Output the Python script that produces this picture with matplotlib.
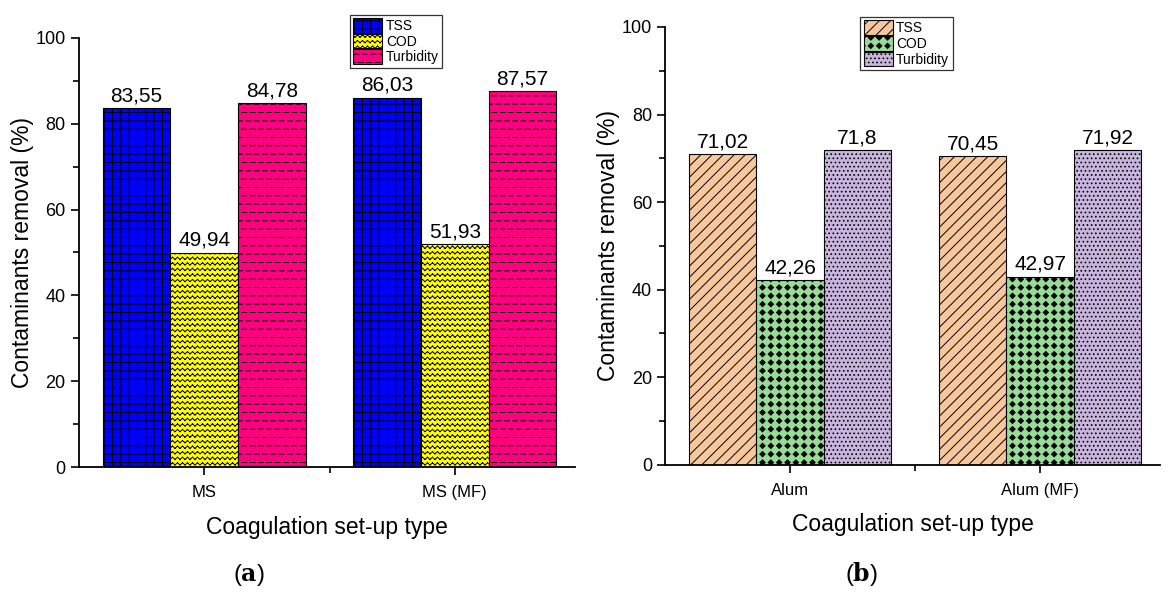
import warnings
import matplotlib
matplotlib.use("Agg")
import matplotlib.pyplot as plt
import matplotlib.hatch as mhatch
from matplotlib.path import Path
import numpy as np

warnings.filterwarnings("ignore")

plt.rcParams['font.family'] = ['Liberation Sans', 'DejaVu Sans']
plt.rcParams['hatch.linewidth'] = 0.7
plt.rcParams['mathtext.fontset'] = 'dejavuserif'

# data
series = ["TSS", "COD", "Turbidity"]
cats_a = ["MS", "MS (MF)"]
vals_a = {"TSS": [83.55, 86.03], "COD": [49.94, 51.93], "Turbidity": [84.78, 87.57]}
cats_b = ["Alum", "Alum (MF)"]
vals_b = {"TSS": [71.02, 70.45], "COD": [42.26, 42.97], "Turbidity": [71.8, 71.92]}

colors_a = ["#0000FF", "#FFFF00", "#FF0080"]
hatch_a = ["++", "~~~", "__"]
colors_b = ["#F8C89C", "#96DC96", "#C8B4DC"]
hatch_b = ["///", "##", "...."]


# extra hatch patterns: '~' zigzag rows, '_' dashed rows, '#' diamond grid
class ZigzagHatch(mhatch.HatchPatternBase):
    def __init__(self, hatch, density):
        self.num_lines = int(hatch.count('~') * density)
        self.seg = 40
        self.num_vertices = self.num_lines * self.seg * 2

    def set_vertices_and_codes(self, vertices, codes):
        xs = np.linspace(0, 1, self.seg + 1)
        amp = 0.2 / max(self.num_lines, 1)
        k = 0
        for i in range(self.num_lines):
            y = (i + 0.5) / self.num_lines
            ys = y + amp * (np.arange(self.seg + 1) % 2 * 2 - 1)
            for j in range(self.seg):
                vertices[k] = xs[j], ys[j]
                vertices[k + 1] = xs[j + 1], ys[j + 1]
                codes[k] = Path.MOVETO
                codes[k + 1] = Path.LINETO
                k += 2


class DashHatch(mhatch.HatchPatternBase):
    def __init__(self, hatch, density):
        self.num_lines = int(hatch.count('_') * density)
        self.ndash = 12
        self.num_vertices = self.num_lines * (self.ndash + 1) * 2

    def set_vertices_and_codes(self, vertices, codes):
        step = 1.0 / self.ndash
        k = 0
        for i in range(self.num_lines):
            y = (i + 0.5) / self.num_lines
            off = step / 2 if i % 2 else 0.0
            for j in range(self.ndash + 1):
                x0 = j * step + off - step
                vertices[k] = x0, y
                vertices[k + 1] = x0 + step * 0.6, y
                codes[k] = Path.MOVETO
                codes[k + 1] = Path.LINETO
                k += 2


class DiamondHatch(mhatch.HatchPatternBase):
    def __init__(self, hatch, density):
        self.n = int(hatch.count('#') * density)
        self.num_vertices = self.n * self.n * 5

    def set_vertices_and_codes(self, vertices, codes):
        r = 0.32 / max(self.n, 1)
        shape = np.array([[0, -r], [r, 0], [0, r], [-r, 0], [0, -r]])
        k = 0
        for i in range(self.n):
            for j in range(self.n):
                c = np.array([(j + 0.5) / self.n, (i + 0.5) / self.n])
                vertices[k:k + 5] = shape + c
                codes[k:k + 5] = [Path.MOVETO, Path.LINETO, Path.LINETO,
                                  Path.LINETO, Path.CLOSEPOLY]
                k += 5


mhatch._hatch_types.extend([ZigzagHatch, DashHatch, DiamondHatch])


def fmt(v):
    return ("%g" % v).replace(".", ",")


def panel(ax, cats, vals, colors, hatches, leg_anchor):
    x = np.arange(1, len(cats) + 1)
    w = 0.27
    for i, s in enumerate(series):
        bars = ax.bar(x + (i - 1) * w, vals[s], w, color=colors[i], hatch=hatches[i],
                      edgecolor="black", linewidth=0.8, label=s)
        ax.bar_label(bars, labels=[fmt(v) for v in vals[s]], padding=2, fontsize=15)
    ax.set_xlim(0.5, 2.48)
    ax.set_ylim(0, 100)
    ax.set_xticks(x)
    ax.set_xticklabels(cats)
    ax.set_xticks([1.5], minor=True)
    ax.set_yticks(np.arange(0, 101, 20))
    ax.set_yticks(np.arange(10, 100, 20), minor=True)
    ax.tick_params(axis="both", which="major", direction="out", length=6, width=1.2, labelsize=13)
    ax.tick_params(axis="x", which="major", labelsize=12, pad=7)
    ax.tick_params(axis="both", which="minor", direction="out", length=4, width=1.2)
    ax.spines["top"].set_visible(False)
    ax.spines["right"].set_visible(False)
    ax.spines["left"].set_linewidth(1.3)
    ax.spines["bottom"].set_linewidth(1.3)
    ax.set_xlabel("Coagulation set-up type", fontsize=16.5, labelpad=11)
    ax.set_ylabel("Contaminants removal (%)", fontsize=16.5, labelpad=1)
    leg = ax.legend(loc="upper left", bbox_to_anchor=leg_anchor, borderaxespad=0,
                    fontsize=10, frameon=True, fancybox=False, edgecolor="black",
                    handlelength=2.1, handleheight=1.25, borderpad=0.25,
                    labelspacing=0.05, handletextpad=0.25)
    leg.get_frame().set_linewidth(0.9)


fig = plt.figure(figsize=(11.73, 5.99), dpi=100)
ax1 = fig.add_axes([0.0673, 0.220, 0.423, 0.717])
ax2 = fig.add_axes([0.567, 0.224, 0.422, 0.731])

panel(ax1, cats_a, vals_a, colors_a, hatch_a, (0.546, 1.054))
panel(ax2, cats_b, vals_b, colors_b, hatch_b, (0.394, 1.023))

fig.text(0.212, 0.03, r"($\mathbf{a}$)", fontsize=17, ha="center")
fig.text(0.734, 0.03, r"($\mathbf{b}$)", fontsize=17, ha="center")

fig.savefig("out.png", dpi=100)
